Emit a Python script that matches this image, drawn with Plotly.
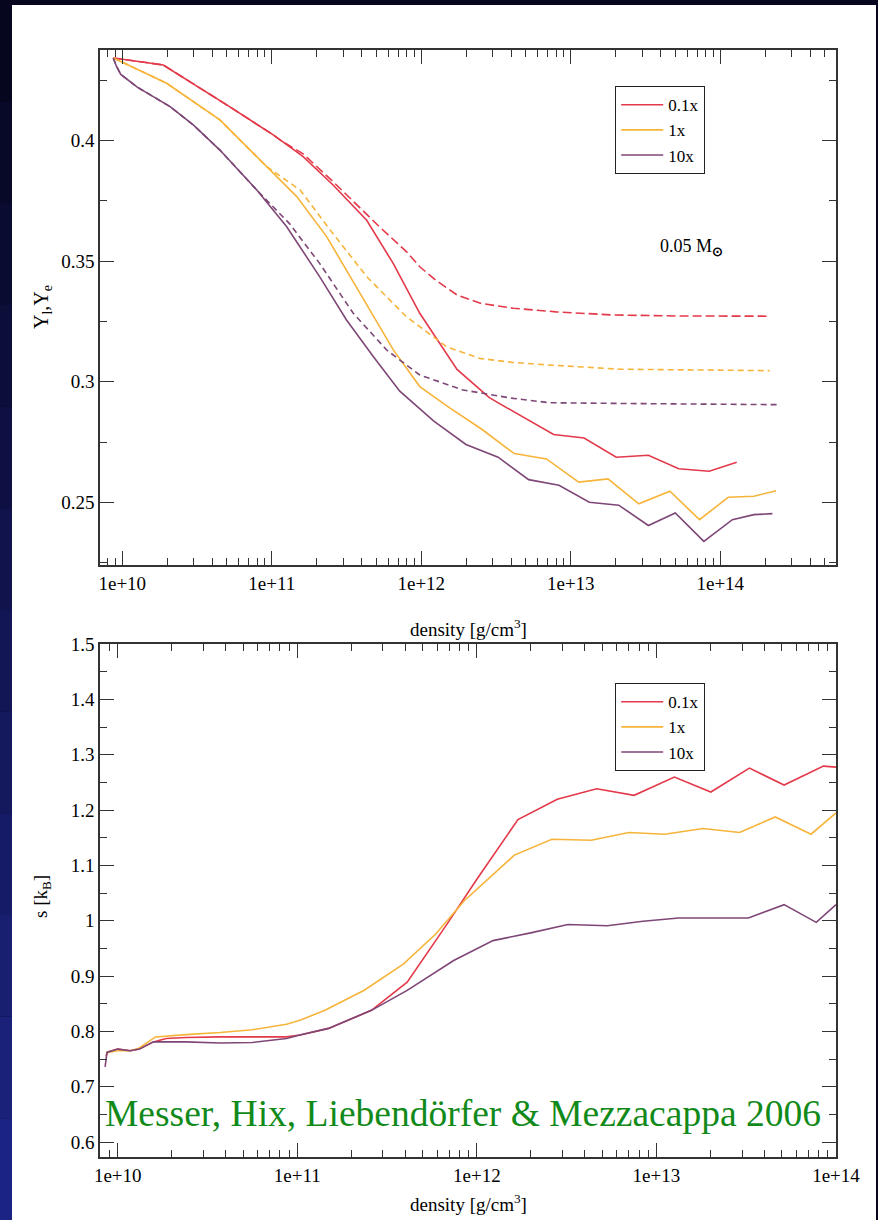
import plotly.graph_objects as go

# ---------------- data: top panel (Y_l solid, Y_e dashed) ----------------
top_red_x = [8.71e9, 1.879e10, 5.248e10, 7.482e10, 1.023e11, 1.622e11, 2.57e11, 4.315e11, 6.501e11,
             9.772e11, 1.734e12, 2.851e12, 4.677e12, 7.674e12, 1.227e13, 2.014e13, 3.304e13, 5.272e13,
             8.433e13, 1.288e14]
top_red_y = [0.4343, 0.4314, 0.4140, 0.4080, 0.4024, 0.3934, 0.3816, 0.3670, 0.3490,
             0.3284, 0.3051, 0.2934, 0.2857, 0.2781, 0.2767, 0.2687, 0.2695, 0.2639,
             0.2629, 0.2666]
top_red_dash_x = [8.71e9, 1.879e10, 5.248e10, 7.482e10, 1.023e11, 1.135e11, 1.622e11, 2.57e11, 3.89e11,
                  5.248e11, 7.943e11, 9.772e11, 1.259e12, 1.734e12, 2.512e12, 4.121e12, 7.943e12,
                  1.905e13, 5.012e13, 2.089e14]
top_red_dash_y = [0.4343, 0.4314, 0.4140, 0.4080, 0.4024, 0.4003, 0.3945, 0.3830, 0.3720,
                  0.3643, 0.3540, 0.3477, 0.3420, 0.3360, 0.3325, 0.3305, 0.3290,
                  0.3277, 0.3273, 0.3272]

top_orange_x = [8.71e9, 1.982e10, 4.498e10, 9.247e10, 1.469e11, 2.328e11, 3.89e11, 6.501e11, 9.772e11,
                1.549e12, 2.553e12, 4.188e12, 6.871e12, 1.13e13, 1.774e13, 2.851e13, 4.603e13,
                7.261e13, 1.13e14, 1.679e14, 2.36e14]
top_orange_y = [0.4343, 0.4238, 0.4086, 0.3892, 0.3768, 0.3602, 0.3367, 0.3132, 0.2980,
                0.2892, 0.2802, 0.2702, 0.2680, 0.2584, 0.2597, 0.2494, 0.2546,
                0.2428, 0.2521, 0.2525, 0.2548]
top_orange_dash_x = [8.71e9, 1.982e10, 4.498e10, 9.247e10, 1.549e11, 2.455e11, 4.315e11, 7.943e11,
                     1.479e12, 2.455e12, 4.121e12, 6.918e12, 2.138e13, 6.0e13, 2.138e14]
top_orange_dash_y = [0.4343, 0.4238, 0.4086, 0.3892, 0.3795, 0.3630, 0.3436, 0.3270,
                     0.3145, 0.3097, 0.3080, 0.3070, 0.3052, 0.3048, 0.3046]

top_purple_x = [8.71e9, 9.12e9, 9.77e9, 1.259e10, 2.089e10, 2.985e10, 4.498e10, 7.943e10, 1.259e11,
                2.089e11, 3.162e11, 4.786e11, 7.178e11, 1.213e12, 1.991e12, 3.266e12, 5.224e12,
                8.337e12, 1.33e13, 2.094e13, 3.304e13, 5.0e13, 7.762e13, 1.205e14, 1.679e14, 2.234e14]
top_purple_y = [0.4343, 0.4310, 0.4275, 0.4222, 0.4141, 0.4065, 0.3961, 0.3795, 0.3643,
                0.3436, 0.3256, 0.3104, 0.2961, 0.2837, 0.2740, 0.2687, 0.2594,
                0.2571, 0.2500, 0.2488, 0.2404, 0.2456, 0.2338, 0.2428, 0.2449, 0.2453]
top_purple_dash_x = [8.71e9, 9.12e9, 9.77e9, 1.259e10, 2.089e10, 2.985e10, 4.498e10, 7.943e10,
                     1.318e11, 2.089e11, 3.508e11, 5.888e11, 9.772e11, 1.905e12, 4.121e12,
                     7.244e12, 2.138e13, 6.0e13, 2.399e14]
top_purple_dash_y = [0.4343, 0.4310, 0.4275, 0.4222, 0.4141, 0.4065, 0.3961, 0.3795,
                     0.3655, 0.3491, 0.3284, 0.3131, 0.3028, 0.2966, 0.2931,
                     0.2913, 0.2910, 0.2907, 0.2905]

# ---------------- data: bottom panel (entropy) ----------------
bot_red_x = [8.61e9, 8.81e9, 1.0e10, 1.175e10, 1.32e10, 1.58e10, 1.862e10, 2.40e10, 3.72e10, 5.62e10,
             8.71e10, 1.035e11, 1.493e11, 2.588e11, 4.093e11, 6.761e11, 1.0e12, 1.694e12, 2.805e12,
             4.645e12, 7.516e12, 1.259e13, 2.009e13, 3.296e13, 5.14e13, 8.511e13, 1.0e14]
bot_red_y = [0.755, 0.763, 0.768, 0.765, 0.768, 0.781, 0.787, 0.789, 0.790, 0.790,
             0.790, 0.7934, 0.8054, 0.838, 0.889, 0.992, 1.075, 1.1827, 1.2193,
             1.2385, 1.2265, 1.2595, 1.2325, 1.2757, 1.2451, 1.2793, 1.2776]

bot_orange_x = [8.61e9, 8.81e9, 1.0e10, 1.175e10, 1.32e10, 1.622e10, 2.40e10, 3.72e10, 5.62e10, 8.71e10,
                1.035e11, 1.426e11, 2.36e11, 3.908e11, 5.902e11, 8.51e11, 1.618e12, 2.618e12,
                4.335e12, 7.015e12, 1.109e13, 1.82e13, 2.904e13, 4.592e13, 7.261e13, 1.0e14]
bot_orange_y = [0.760, 0.762, 0.765, 0.765, 0.770, 0.790, 0.7942, 0.798, 0.803, 0.813,
                0.820, 0.8383, 0.8743, 0.922, 0.976, 1.036, 1.1185, 1.1473,
                1.1455, 1.1593, 1.1563, 1.1665, 1.1593, 1.1875, 1.1563, 1.1947]

bot_purple_x = [8.51e9, 8.71e9, 1.0e10, 1.175e10, 1.32e10, 1.58e10, 2.40e10, 3.72e10, 5.62e10, 8.71e10,
                1.035e11, 1.493e11, 2.588e11, 4.093e11, 7.43e11, 1.23e12, 1.995e12, 3.214e12,
                5.321e12, 8.414e12, 1.33e13, 2.089e13, 3.251e13, 5.14e13, 7.762e13, 1.0e14]
bot_purple_y = [0.736, 0.762, 0.768, 0.765, 0.768, 0.781, 0.781, 0.779, 0.780, 0.787,
                0.7934, 0.8054, 0.838, 0.874, 0.928, 0.964, 0.978, 0.993,
                0.991, 0.999, 1.005, 1.005, 1.005, 1.029, 0.997, 1.029]

series_names = ["0.1x", "1x", "10x"]
x_tick_vals = [1e10, 1e11, 1e12, 1e13, 1e14]
x_tick_text = ["1e+10", "1e+11", "1e+12", "1e+13", "1e+14"]
top_y_ticks = [0.25, 0.3, 0.35, 0.4]
top_y_text = ["0.25", "0.3", "0.35", "0.4"]
bot_y_ticks = [0.6, 0.7, 0.8, 0.9, 1.0, 1.1, 1.2, 1.3, 1.4, 1.5]
bot_y_text = ["0.6", "0.7", "0.8", "0.9", "1", "1.1", "1.2", "1.3", "1.4", "1.5"]

RED = "#e3394a"
ORANGE = "#f6b43a"
PURPLE = "#7e4777"
FONT = "Liberation Serif"
W, H = 878, 1220

fig = go.Figure()

def add(x, y, color, name, xa, ya, leg, dash="solid", show=True):
    fig.add_trace(go.Scatter(x=x, y=y, mode="lines", name=name,
                             line=dict(color=color, width=1.6, dash=dash),
                             xaxis=xa, yaxis=ya, legend=leg, showlegend=show,
                             hoverinfo="skip"))

add(top_red_x, top_red_y, RED, series_names[0], "x", "y", "legend")
add(top_orange_x, top_orange_y, ORANGE, series_names[1], "x", "y", "legend")
add(top_purple_x, top_purple_y, PURPLE, series_names[2], "x", "y", "legend")
add(top_red_dash_x, top_red_dash_y, RED, series_names[0], "x", "y", "legend", dash="9px,4px", show=False)
add(top_orange_dash_x, top_orange_dash_y, ORANGE, series_names[1], "x", "y", "legend", dash="6px,4px", show=False)
add(top_purple_dash_x, top_purple_dash_y, PURPLE, series_names[2], "x", "y", "legend", dash="6px,4px", show=False)

add(bot_red_x, bot_red_y, RED, series_names[0], "x2", "y2", "legend2")
add(bot_orange_x, bot_orange_y, ORANGE, series_names[1], "x2", "y2", "legend2")
add(bot_purple_x, bot_purple_y, PURPLE, series_names[2], "x2", "y2", "legend2")

minor_x = [m * 10 ** e for e in range(9, 15) for m in range(2, 10)]
AX = "#333333"
tickfont = dict(family=FONT, size=19, color="black")

def xaxis_cfg(rng, anchor):
    return dict(type="log", range=rng, domain=[100 / W, 836 / W], anchor=anchor,
                tickmode="array", tickvals=x_tick_vals, ticktext=x_tick_text,
                ticks="inside", ticklen=14, tickwidth=1.4, tickcolor=AX,
                showline=True, linecolor=AX, linewidth=1.6, mirror="allticks",
                showgrid=False, zeroline=False, tickfont=tickfont, automargin=False,
                minor=dict(tickmode="array", tickvals=minor_x, ticks="inside",
                           ticklen=7, tickwidth=1.2, tickcolor=AX, showgrid=False))

def yaxis_cfg(rng, dom, anchor, tv, tt, mdt):
    return dict(range=rng, domain=dom, anchor=anchor,
                tickmode="array", tickvals=tv, ticktext=tt,
                ticks="inside", ticklen=14, tickwidth=1.4, tickcolor=AX,
                showline=True, linecolor=AX, linewidth=1.6, mirror="allticks",
                showgrid=False, zeroline=False, tickfont=tickfont, automargin=False,
                minor=dict(dtick=mdt, ticks="inside", ticklen=7, tickwidth=1.2,
                           tickcolor=AX, showgrid=False))

legfont = dict(family=FONT, size=17, color="black")

fig.update_layout(
    width=W, height=H, margin=dict(l=0, r=0, t=0, b=0, pad=0, autoexpand=False),
    paper_bgcolor="#06061f", plot_bgcolor="white",
    xaxis=xaxis_cfg([9.851, 14.774], "y"),
    yaxis=yaxis_cfg([0.224, 0.4376], [1 - 565 / H, 1 - 50 / H], "x", top_y_ticks, top_y_text, 0.025),
    xaxis2=xaxis_cfg([9.9014, 14.0], "y2"),
    yaxis2=yaxis_cfg([0.573, 1.5], [1 - 1157 / H, 1 - 644 / H], "x2", bot_y_ticks, bot_y_text, 0.05),
    legend=dict(x=615 / W, y=1 - 86 / H, xanchor="left", yanchor="top", bgcolor="white",
                bordercolor="#222", borderwidth=1.2, font=legfont, itemwidth=42,
                tracegroupgap=0),
    legend2=dict(x=615 / W, y=1 - 683 / H, xanchor="left", yanchor="top", bgcolor="white",
                 bordercolor="#222", borderwidth=1.2, font=legfont, itemwidth=42,
                 tracegroupgap=0),
    showlegend=True,
)

# page frame: white sheet on navy background with a bluish left strip
shapes = [dict(type="rect", xref="paper", yref="paper", x0=12 / W, x1=876 / W, y0=0, y1=1 - 5 / H,
               fillcolor="white", line=dict(width=0), layer="below")]
n = 12
for i in range(n):
    t = i / (n - 1)
    r = int(6 + t * 22)
    g = int(6 + t * 30)
    b = int(31 + t * 100)
    shapes.append(dict(type="rect", xref="paper", yref="paper", x0=0, x1=12 / W,
                       y0=1 - (i + 1) / n, y1=1 - i / n,
                       fillcolor=f"rgb({r},{g},{b})", line=dict(width=0), layer="below"))
fig.update_layout(shapes=shapes)

ann = [
    dict(text="0.05 M<sub><b>⊙</b></sub>", x=658 / W, y=1 - 247 / H, xref="paper", yref="paper",
         xanchor="left", yanchor="middle", showarrow=False, font=dict(family=FONT, size=18, color="black")),
    dict(text="Y<sub>l</sub>,Y<sub>e</sub>", x=42 / W, y=1 - 307 / H, xref="paper", yref="paper",
         xanchor="center", yanchor="middle", textangle=-90, showarrow=False,
         font=dict(family=FONT, size=20, color="black")),
    dict(text="s [k<sub>B</sub>]", x=42 / W, y=1 - 897 / H, xref="paper", yref="paper",
         xanchor="center", yanchor="middle", textangle=-90, showarrow=False,
         font=dict(family=FONT, size=19, color="black")),
    dict(text="density [g/cm<sup>3</sup>]", x=468 / W, y=1 - 628 / H, xref="paper", yref="paper",
         xanchor="center", yanchor="middle", showarrow=False, font=dict(family=FONT, size=19, color="black")),
    dict(text="density [g/cm<sup>3</sup>]", x=468 / W, y=1 - 1203 / H, xref="paper", yref="paper",
         xanchor="center", yanchor="middle", showarrow=False, font=dict(family=FONT, size=19, color="black")),
    dict(text="Messer, Hix, Liebendörfer &amp; Mezzacappa 2006", x=103 / W, y=1 - 1113 / H,
         xref="paper", yref="paper", xanchor="left", yanchor="middle", showarrow=False,
         font=dict(family=FONT, size=37.5, color="#118a1a")),
]
fig.update_layout(annotations=ann)

fig.write_html("out.html")
